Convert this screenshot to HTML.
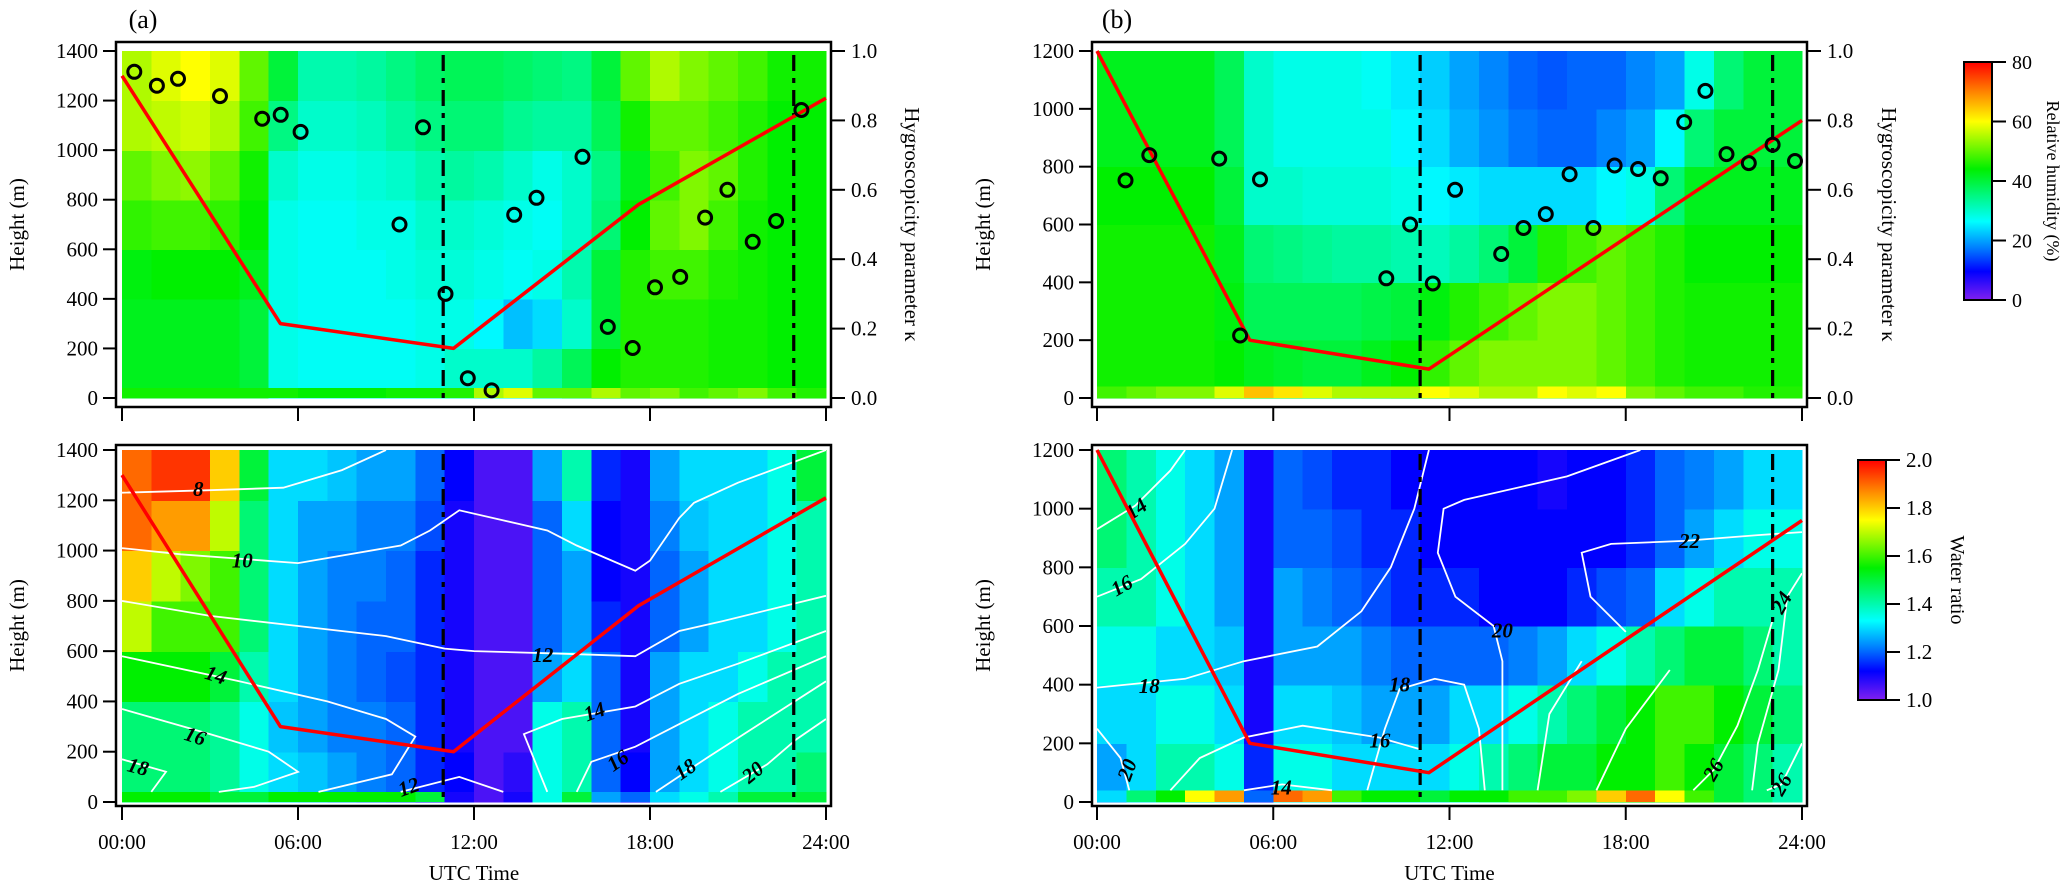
<!DOCTYPE html>
<html>
<head>
<meta charset="utf-8">
<style>
html,body{margin:0;padding:0;background:#fff;}
svg{display:block;}
text{font-family:"Liberation Serif","DejaVu Serif",serif;fill:#000;}
</style>
</head>
<body>
<svg id="chart" width="2067" height="890" viewBox="0 0 2067 890" xmlns="http://www.w3.org/2000/svg">
<defs>
<linearGradient id="rainbow" x1="0" y1="1" x2="0" y2="0">
<stop offset="0" stop-color="#8020f0"/>
<stop offset="0.12" stop-color="#0000ff"/>
<stop offset="0.22" stop-color="#0080ff"/>
<stop offset="0.33" stop-color="#00ffff"/>
<stop offset="0.55" stop-color="#00f000"/>
<stop offset="0.75" stop-color="#ffff00"/>
<stop offset="0.87" stop-color="#ff8800"/>
<stop offset="1" stop-color="#ff0000"/>
</linearGradient>
</defs>
</svg>
<script>
// ---------------- DATA ----------------
const timeTickLabels = ["00:00","06:00","12:00","18:00","24:00"];
const timeTickHours = [0,6,12,18,24];
const aHeightTicks = [0,200,400,600,800,1000,1200,1400];
const bHeightTicks = [0,200,400,600,800,1000,1200];
const kappaTicks = [0.0,0.2,0.4,0.6,0.8,1.0];
const rhTicks = [0,20,40,60,80];
const wrTicks = [1.0,1.2,1.4,1.6,1.8,2.0];

// Panel (a) relative humidity (%), rows bottom(0-200m) -> top(1200-1400m), 24 hourly columns
const aRhRows = [
 [42,42,42,42,40,28,27,27,27,27,28,30,30,30,33,38,44,46,46,46,45,45,44,44],
 [42,42,42,42,40,28,27,27,27,27,28,28,26,22,24,30,40,46,46,46,45,45,44,44],
 [43,44,44,44,42,28,27,27,27,28,29,29,28,27,28,32,40,46,48,48,46,45,44,44],
 [47,48,48,47,44,28,27,27,28,28,30,30,29,28,27,30,36,44,50,52,48,45,44,44],
 [50,52,53,50,45,30,28,28,29,30,32,33,32,30,28,30,35,42,48,52,50,46,44,44],
 [55,56,57,55,48,35,30,30,31,33,35,36,36,34,33,33,38,45,50,50,48,46,44,44],
 [55,58,60,58,50,40,32,32,33,35,37,38,38,37,36,35,40,50,55,52,50,48,45,45]
];
const aRhSurface = [45,45,45,45,45,45,44,44,44,45,45,46,55,58,50,50,55,50,52,48,50,52,48,46];

// Panel (a) water ratio
const aWrRows = [
 [1.45,1.45,1.45,1.42,1.35,1.3,1.28,1.25,1.22,1.2,1.15,1.12,1.05,1.08,1.35,1.4,1.2,1.12,1.25,1.3,1.35,1.4,1.4,1.45],
 [1.45,1.45,1.45,1.42,1.35,1.28,1.25,1.22,1.22,1.2,1.15,1.1,1.05,1.05,1.35,1.4,1.2,1.1,1.25,1.3,1.35,1.4,1.4,1.4],
 [1.55,1.55,1.55,1.5,1.4,1.3,1.25,1.22,1.2,1.18,1.15,1.1,1.05,1.05,1.25,1.3,1.2,1.1,1.25,1.3,1.3,1.35,1.4,1.4],
 [1.7,1.6,1.6,1.6,1.45,1.3,1.25,1.22,1.2,1.2,1.15,1.1,1.05,1.05,1.2,1.25,1.15,1.1,1.2,1.25,1.3,1.3,1.35,1.4],
 [1.8,1.7,1.65,1.6,1.45,1.3,1.25,1.22,1.22,1.2,1.15,1.1,1.05,1.05,1.2,1.25,1.12,1.1,1.2,1.25,1.3,1.3,1.35,1.4],
 [1.9,1.85,1.85,1.7,1.45,1.3,1.25,1.25,1.22,1.22,1.18,1.1,1.05,1.05,1.2,1.3,1.12,1.1,1.22,1.28,1.3,1.3,1.35,1.4],
 [1.9,1.95,1.95,1.8,1.5,1.3,1.3,1.28,1.25,1.25,1.2,1.12,1.05,1.05,1.25,1.4,1.15,1.1,1.25,1.3,1.3,1.3,1.35,1.5]
];
const aWrSurface = [1.55,1.55,1.55,1.5,1.5,1.55,1.55,1.55,1.55,1.55,1.5,1.1,1.05,1.1,1.35,1.5,1.25,1.2,1.3,1.35,1.4,1.5,1.5,1.5];

// Panel (b) relative humidity (%), rows bottom(0-200m) -> top(1000-1200m)
const bRhRows = [
 [45,45,45,45,44,42,41,40,40,42,44,47,50,52,52,52,52,50,48,46,45,45,45,45],
 [45,45,45,45,43,38,38,38,38,39,40,43,46,48,50,52,52,50,48,46,45,45,45,45],
 [45,45,45,45,42,36,35,34,33,33,32,31,33,36,40,46,48,50,48,46,44,44,44,44],
 [44,44,44,44,40,30,30,29,29,29,28,26,25,24,24,24,24,26,28,36,42,42,42,42],
 [42,42,42,42,38,30,28,28,28,28,26,24,21,19,17,16,16,18,20,26,36,40,40,40],
 [42,42,42,42,38,30,28,28,28,27,25,23,20,18,16,15,16,16,18,20,28,36,40,40]
];
const bRhSurface = [48,50,52,52,58,65,62,58,55,55,55,60,58,55,55,60,58,60,52,50,48,48,46,46];

// Panel (b) water ratio
const bWrRows = [
 [1.25,1.3,1.4,1.4,1.35,1.15,1.35,1.35,1.3,1.3,1.3,1.3,1.35,1.4,1.45,1.5,1.5,1.55,1.55,1.6,1.55,1.5,1.45,1.4],
 [1.3,1.3,1.35,1.35,1.3,1.1,1.3,1.3,1.28,1.25,1.25,1.25,1.3,1.3,1.35,1.4,1.45,1.5,1.55,1.6,1.6,1.55,1.5,1.45],
 [1.35,1.35,1.3,1.3,1.28,1.1,1.25,1.25,1.25,1.22,1.2,1.2,1.2,1.2,1.22,1.25,1.3,1.35,1.4,1.45,1.5,1.5,1.45,1.4],
 [1.4,1.4,1.35,1.3,1.25,1.1,1.25,1.22,1.2,1.18,1.15,1.15,1.15,1.12,1.12,1.12,1.15,1.18,1.2,1.3,1.35,1.4,1.4,1.4],
 [1.45,1.4,1.35,1.3,1.25,1.1,1.2,1.2,1.18,1.15,1.15,1.12,1.12,1.12,1.12,1.12,1.12,1.12,1.15,1.2,1.25,1.3,1.35,1.35],
 [1.45,1.4,1.35,1.3,1.25,1.1,1.2,1.18,1.15,1.15,1.12,1.12,1.12,1.12,1.12,1.1,1.12,1.12,1.15,1.2,1.22,1.25,1.3,1.3]
];
const bWrSurface = [1.3,1.45,1.55,1.75,1.85,1.2,1.9,1.85,1.6,1.55,1.55,1.5,1.55,1.55,1.6,1.6,1.65,1.8,1.9,1.75,1.6,1.5,1.45,1.4];

// Boundary layer height (red line)
const aBlhHours = [0,5.4,11.3,17.6,24];
const aBlhHeights = [1300,300,200,780,1210];
const bBlhHours = [0,5.2,11.3,24];
const bBlhHeights = [1200,200,100,960];

// Vertical dash-dot markers
const aDashHours = [10.95,22.9];
const bDashHours = [11.0,23.0];

// Hygroscopicity parameter kappa (circles)
const aKappaHours = [0.42,1.19,1.91,3.34,4.78,5.41,6.09,9.46,10.26,11.03,11.79,12.6,13.37,14.13,15.7,16.56,17.41,18.17,19.03,19.88,20.64,21.5,22.3,23.16];
const aKappaValues = [0.94,0.90,0.92,0.87,0.805,0.816,0.767,0.50,0.78,0.30,0.057,0.022,0.528,0.577,0.695,0.205,0.144,0.319,0.349,0.52,0.60,0.45,0.51,0.83];
const bKappaHours = [0.97,1.78,4.16,4.87,5.55,9.85,10.66,11.43,12.19,13.76,14.52,15.28,16.09,16.9,17.62,18.42,19.19,19.99,20.71,21.43,22.19,23.0,23.76];
const bKappaValues = [0.627,0.70,0.69,0.18,0.63,0.345,0.50,0.33,0.60,0.415,0.49,0.53,0.645,0.49,0.67,0.66,0.633,0.795,0.885,0.703,0.677,0.73,0.683];

// Contour lines ([hour, height] pairs) and labels ([text, hour, height, angle])
const aContourLines = [
 [[0,1230],[3,1240],[5.5,1250],[7.5,1320],[9,1400]],
 [[0,1010],[2,985],[6,950],[9.5,1020],[10.5,1080],[11.5,1160],[13,1120],[14.5,1080],[15.5,1020],[17.5,920],[18,960],[19,1130],[19.5,1190],[21,1270],[24,1400]],
 [[0,800],[3,740],[6,700],[9,660],[11,610],[12,600],[15,590],[17.5,580],[19,680],[20.5,720],[24,820]],
 [[0,580],[4,480],[7,400],[9,330],[10,260],[9.2,110],[6.7,40]],
 [[0,370],[3,270],[5,200],[6,120],[4.5,60],[3.3,40]],
 [[0,170],[1.5,120],[1,40]],
 [[9.5,40],[11.5,100],[13,40]],
 [[14.5,40],[13.7,270],[15,330],[17.5,380],[19,470],[21,550],[24,680]],
 [[15.5,40],[16,160],[17.5,220],[19,310],[21,430],[24,580]],
 [[18.2,40],[20,180],[22,330],[24,480]],
 [[20.4,40],[22,150],[23,250],[24,330]]
];
const aContourLabels = [["8",2.6,1245,0],["10",4.1,960,0],["12",14.35,585,0],["14",3.2,505,18],["16",2.5,262,18],["18",0.55,140,15],["12",9.77,60,-20],["14",16.1,360,-20],["16",16.9,165,-35],["18",19.2,130,-35],["20",21.5,118,-40]];

const bContourLines = [
 [[0,930],[1.3,1010],[2.5,1130],[3,1200]],
 [[0,700],[1.5,760],[3,880],[4,1000],[4.6,1200]],
 [[0,390],[3,420],[5,480],[7.5,530],[9,650],[10,800],[10.8,1000],[11.3,1200]],
 [[0,250],[0.8,150],[1.1,40]],
 [[2.5,40],[3.5,150],[5,220],[7,260],[9.6,220],[11,180]],
 [[5,40],[6.3,60],[8,40]],
 [[9.2,40],[9.8,250],[10.3,385],[11.5,420],[12.5,400],[13,250],[13.2,40]],
 [[13.8,40],[13.8,480],[13.5,600],[12.2,700],[11.6,850],[11.8,1000],[12.5,1030],[16,1110],[18.5,1200]],
 [[24,920],[22.5,910],[20,890],[17.5,880],[16.5,850],[16.8,700],[18,580]],
 [[24,780],[23.5,700],[23.2,450],[22.5,200],[22.3,40]],
 [[20.3,40],[21,110],[21.8,260],[22.5,450],[23,620]],
 [[22.8,40],[23.3,60],[24,200]],
 [[15,40],[15.4,300],[16.5,480]],
 [[17,40],[18,250],[19.5,450]]
];
const bContourLabels = [["14",1.33,1000,-35],["16",0.84,738,-30],["18",1.78,395,0],["20",1.02,110,-70],["18",10.3,400,0],["20",13.8,585,0],["16",9.63,210,0],["14",6.27,50,0],["22",20.17,890,0],["24",23.3,680,-60],["26",20.98,110,-60],["26",23.3,60,-60]];

// ---------------- RENDERING ----------------
const NS = 'http://www.w3.org/2000/svg';
const svg = document.getElementById('chart');
function mk(tag, attrs, parent) {
  const e = document.createElementNS(NS, tag);
  for (const k in attrs) e.setAttribute(k, attrs[k]);
  (parent || svg).appendChild(e);
  return e;
}
const stops = [[0,[128,32,240]],[0.12,[0,0,255]],[0.22,[0,128,255]],[0.33,[0,255,255]],[0.55,[0,240,0]],[0.75,[255,255,0]],[0.87,[255,136,0]],[1,[255,0,0]]];
function cmap(t) {
  t = Math.max(0, Math.min(1, t));
  for (let i = 1; i < stops.length; i++) {
    if (t <= stops[i][0]) {
      const a = stops[i-1], b = stops[i], f = (t - a[0]) / (b[0] - a[0]);
      const c = a[1].map((v, j) => Math.round(v + (b[1][j] - v) * f));
      return 'rgb(' + c.join(',') + ')';
    }
  }
  return 'rgb(255,0,0)';
}

function panel(cfg) {
  const g = mk('g', {});
  
  
  const xS = h => cfg.x0 + (cfg.x1 - cfg.x0) * h / 24;
  const yS = m => cfg.y0 - (cfg.y0 - cfg.yTop) * m / cfg.hMax;
  const clipId = cfg.name + '-clip';
  const cp = mk('clipPath', {id: clipId}, g);
  mk('rect', {x: cfg.x0, y: cfg.yTop, width: cfg.x1 - cfg.x0, height: cfg.y0 - cfg.yTop}, cp);

  const hg = mk('g', {'shape-rendering': 'crispEdges'}, g);
  
  
  cfg.rows.forEach((row, r) => {
    row.forEach((v, c) => {
      const x = xS(c), w = xS(c + 1) - x;
      const y = yS((r + 1) * 200), h = yS(r * 200) - y;
      const cell = mk('rect', {x: x.toFixed(1), y: y.toFixed(1), width: (w + 0.6).toFixed(1), height: (h + 0.6).toFixed(1), fill: cmap((v - cfg.vmin) / (cfg.vmax - cfg.vmin))}, hg);
      
      
    });
  });
  cfg.surface.forEach((v, c) => {
    const x = xS(c), w = xS(c + 1) - x;
    const y = yS(40), h = yS(0) - y;
    const cell = mk('rect', {x: x.toFixed(1), y: y.toFixed(1), width: (w + 0.6).toFixed(1), height: h.toFixed(1), fill: cmap((v - cfg.vmin) / (cfg.vmax - cfg.vmin))}, hg);
    
    
  });

  if (cfg.contours) {
    const cg = mk('g', {'clip-path': 'url(#' + clipId + ')'}, g);
    
    
    cfg.contours.forEach(line => {
      const pts = line.map(p => xS(p[0]).toFixed(1) + ',' + yS(p[1]).toFixed(1)).join(' ');
      const pl = mk('polyline', {points: pts, fill: 'none', stroke: '#fff', 'stroke-width': 1.8}, cg);
      
      
    });
    cfg.labels.forEach(l => {
      const x = xS(l[1]), y = yS(l[2]);
      const t = mk('text', {x: x.toFixed(1), y: (y + 7).toFixed(1), 'text-anchor': 'middle', 'font-size': 21, 'font-weight': 'bold', 'font-style': 'italic', transform: 'rotate(' + l[3] + ' ' + x.toFixed(1) + ' ' + y.toFixed(1) + ')'}, cg);
      t.textContent = l[0];
      
      
    });
  }

  cfg.dashes.forEach(h => {
    const d = mk('line', {x1: xS(h), x2: xS(h), y1: cfg.yTop + 4, y2: cfg.y0, stroke: '#000', 'stroke-width': 3.2, 'stroke-dasharray': '16,7,5,7'}, g);
    
    
  });

  const blhPts = cfg.blhH.map((h, i) => xS(h).toFixed(1) + ',' + yS(cfg.blhM[i]).toFixed(1)).join(' ');
  const bl = mk('polyline', {points: blhPts, fill: 'none', stroke: '#ff0000', 'stroke-width': 3.5, 'stroke-linejoin': 'round'}, g);
  
  

  if (cfg.kH) {
    const yK = k => cfg.y0 - (cfg.y0 - cfg.yTop) * k;
    cfg.kH.forEach((h, i) => {
      const c = mk('circle', {cx: xS(h).toFixed(1), cy: yK(cfg.kV[i]).toFixed(1), r: 6.5, fill: 'none', stroke: '#000', 'stroke-width': 3}, g);
      
      
    });
    cfg.kTicks.forEach(k => {
      const y = yK(k);
      mk('line', {x1: cfg.fx1, x2: cfg.fx1 + 14, y1: y, y2: y, stroke: '#000', 'stroke-width': 2}, g);
      const t = mk('text', {x: cfg.fx1 + 20, y: y + 7, 'font-size': 21}, g);
      t.textContent = k.toFixed(1);
      
      
    });
    const kt = mk('text', {x: cfg.kTitleX, y: (cfg.fy0 + cfg.fy1) / 2, 'font-size': 21, 'text-anchor': 'middle', transform: 'rotate(90 ' + cfg.kTitleX + ' ' + (cfg.fy0 + cfg.fy1) / 2 + ')'}, g);
    kt.textContent = 'Hygroscopicity parameter κ';
    
    
  }

  const fr = mk('rect', {x: cfg.fx0, y: cfg.fy0, width: cfg.fx1 - cfg.fx0, height: cfg.fy1 - cfg.fy0, fill: 'none', stroke: '#000', 'stroke-width': 2.5}, g);
  
  

  cfg.hTicks.forEach(m => {
    const y = yS(m);
    mk('line', {x1: cfg.fx0 - 13, x2: cfg.fx0, y1: y, y2: y, stroke: '#000', 'stroke-width': 2}, g);
    const t = mk('text', {x: cfg.fx0 - 18, y: y + 7, 'font-size': 21, 'text-anchor': 'end'}, g);
    t.textContent = m;
    
    
  });
  const yc = (cfg.fy0 + cfg.fy1) / 2;
  const ht = mk('text', {x: cfg.hTitleX, y: yc, 'font-size': 21, 'text-anchor': 'middle', transform: 'rotate(-90 ' + cfg.hTitleX + ' ' + yc + ')'}, g);
  ht.textContent = 'Height (m)';
  
  

  timeTickHours.forEach((h, i) => {
    const x = xS(h);
    mk('line', {x1: x, x2: x, y1: cfg.fy1, y2: cfg.fy1 + 14, stroke: '#000', 'stroke-width': 2}, g);
    if (cfg.showTime) {
      const t = mk('text', {x: x, y: cfg.fy1 + 43, 'font-size': 21, 'text-anchor': 'middle'}, g);
      t.textContent = timeTickLabels[i];
      
      
    }
  });
  if (cfg.showTime) {
    const t = mk('text', {x: xS(12), y: cfg.fy1 + 74, 'font-size': 21, 'text-anchor': 'middle'}, g);
    t.textContent = 'UTC Time';
    
    
  }
}

panel({name:'panel-a-rh', x0:122, x1:826, y0:398, yTop:51, hMax:1400, rows:aRhRows, surface:aRhSurface, vmin:0, vmax:80,
  dashes:aDashHours, blhH:aBlhHours, blhM:aBlhHeights, kH:aKappaHours, kV:aKappaValues, kTicks:kappaTicks, kTitleX:905,
  fx0:116, fx1:831, fy0:42, fy1:407, hTicks:aHeightTicks, hTitleX:24, showTime:false});
panel({name:'panel-a-water-ratio', x0:122, x1:826, y0:802, yTop:450, hMax:1400, rows:aWrRows, surface:aWrSurface, vmin:1, vmax:2,
  dashes:aDashHours, blhH:aBlhHours, blhM:aBlhHeights, contours:aContourLines, labels:aContourLabels,
  fx0:116, fx1:831, fy0:445, fy1:806, hTicks:aHeightTicks, hTitleX:24, showTime:true});
panel({name:'panel-b-rh', x0:1097, x1:1802, y0:398, yTop:51, hMax:1200, rows:bRhRows, surface:bRhSurface, vmin:0, vmax:80,
  dashes:bDashHours, blhH:bBlhHours, blhM:bBlhHeights, kH:bKappaHours, kV:bKappaValues, kTicks:kappaTicks, kTitleX:1882,
  fx0:1092, fx1:1807, fy0:42, fy1:407, hTicks:bHeightTicks, hTitleX:990, showTime:false});
panel({name:'panel-b-water-ratio', x0:1097, x1:1802, y0:802, yTop:450, hMax:1200, rows:bWrRows, surface:bWrSurface, vmin:1, vmax:2,
  dashes:bDashHours, blhH:bBlhHours, blhM:bBlhHeights, contours:bContourLines, labels:bContourLabels,
  fx0:1092, fx1:1807, fy0:445, fy1:806, hTicks:bHeightTicks, hTitleX:990, showTime:true});

const la = mk('text', {x: 143, y: 28, 'font-size': 26, 'text-anchor': 'middle'});
la.textContent = '(a)';


const lb = mk('text', {x: 1117, y: 28, 'font-size': 26, 'text-anchor': 'middle'});
lb.textContent = '(b)';



function colorbar(name, x, yTop, yBot, ticks, vmin, vmax, fmt, title, titleX, fs, tfs) {
  const g = mk('g', {});
  
  
  mk('rect', {x: x, y: yTop, width: 28, height: yBot - yTop, fill: 'url(#rainbow)', stroke: '#000', 'stroke-width': 2}, g);
  ticks.forEach(v => {
    const y = yBot - (yBot - yTop) * (v - vmin) / (vmax - vmin);
    mk('line', {x1: x + 28, x2: x + 42, y1: y, y2: y, stroke: '#000', 'stroke-width': 2}, g);
    const t = mk('text', {x: x + 48, y: y + 7, 'font-size': fs}, g);
    t.textContent = fmt(v);
    
    
  });
  const yc = (yTop + yBot) / 2;
  const t = mk('text', {x: titleX, y: yc, 'font-size': tfs, 'text-anchor': 'middle', transform: 'rotate(90 ' + titleX + ' ' + yc + ')'}, g);
  t.textContent = title;
  
  
}
colorbar('rh-colorbar', 1964, 62, 300, rhTicks, 0, 80, v => String(v), 'Relative humidity (%)', 2047, 20, 18);
colorbar('water-ratio-colorbar', 1858, 460, 700, wrTicks, 1, 2, v => v.toFixed(1), 'Water ratio', 1951, 21, 20);
</script>
</body>
</html>
